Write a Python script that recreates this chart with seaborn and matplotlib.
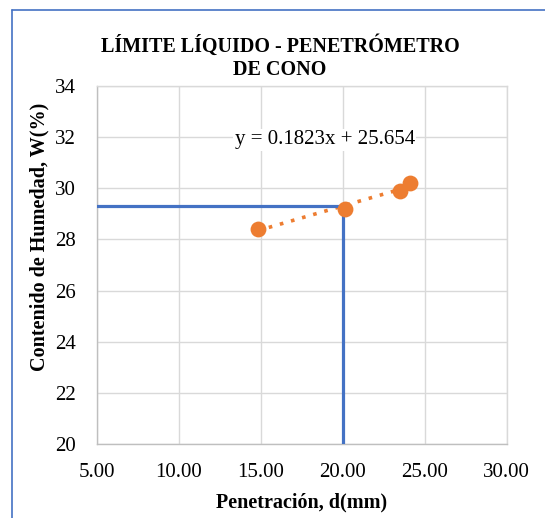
import numpy as np
import pandas as pd
import matplotlib.pyplot as plt
import seaborn as sns
from matplotlib.lines import Line2D

# Data
penetracion = [14.8, 20.1, 23.5, 24.1]
humedad = [28.4, 29.2, 29.9, 30.2]
ll_penetracion = 20.0
ll_humedad = 29.3
ecuacion = "y = 0.1823x + 25.654"
x_ticks = [5, 10, 15, 20, 25, 30]
y_ticks = [20, 22, 24, 26, 28, 30, 32, 34]

df = pd.DataFrame({"d": penetracion, "w": humedad})

sns.set_style("white")
plt.rcParams["font.family"] = ["Liberation Serif", "DejaVu Serif"]
plt.rcParams.update({"text.color": "black", "axes.labelcolor": "black",
                     "xtick.color": "black", "ytick.color": "black"})

fig = plt.figure(figsize=(5.45, 5.18), dpi=100)
ax = fig.add_axes([0.178, 0.143, 0.752, 0.691])

# Linear trendline (dotted)
m, b = np.polyfit(df["d"], df["w"], 1)
xs = np.array([df["d"].min(), df["d"].max()])
ax.plot(xs, m * xs + b, color="#ED7D31", linestyle=(0, (1, 2.2)),
        linewidth=2.6, zorder=3)

# Liquid limit guide lines
ax.plot([x_ticks[0], ll_penetracion, ll_penetracion],
        [ll_humedad, ll_humedad, y_ticks[0]],
        color="#4472C4", linewidth=2.3, zorder=4)

sns.scatterplot(data=df, x="d", y="w", ax=ax, color="#ED7D31", s=130,
                edgecolor="#ED7D31", linewidth=0, zorder=5)

ax.text(18.9, 31.9, ecuacion, fontsize=15, ha="center", va="center",
        bbox=dict(facecolor="white", edgecolor="none", pad=1), zorder=2)

ax.set_xlim(5, 30)
ax.set_ylim(20, 34)
ax.set_xticks(x_ticks)
ax.set_xticklabels([f"{v:.2f}" for v in x_ticks])
ax.set_yticks(y_ticks)
ax.grid(True, color="#d9d9d9", linewidth=1)
ax.tick_params(axis="x", labelsize=15, length=0, pad=14)
ax.tick_params(axis="y", labelsize=15, length=0, pad=15)
for s in ["top", "right"]:
    ax.spines[s].set_color("#d9d9d9")
for s in ["left", "bottom"]:
    ax.spines[s].set_color("#bfbfbf")
for s in ax.spines.values():
    s.set_linewidth(1)

ax.set_xlabel("Penetración, d(mm)", fontsize=14.5, fontweight="bold", labelpad=7)
ax.set_ylabel("Contenido de Humedad, W(%)", fontsize=14.5, fontweight="bold")
ax.yaxis.set_label_coords(-0.115, 0.578)
fig.text(0.514, 0.846, "LÍMITE LÍQUIDO - PENETRÓMETRO\nDE CONO", ha="center",
         va="bottom", fontsize=14.5, fontweight="bold", linespacing=1.2)

# Blue frame at the top and left of the image
fig.add_artist(Line2D([0.022, 1.0], [0.981, 0.981], color="#4472C4",
                      linewidth=1.2, transform=fig.transFigure))
fig.add_artist(Line2D([0.022, 0.022], [0.0, 0.981], color="#4472C4",
                      linewidth=1.2, transform=fig.transFigure))

fig.savefig("out.png", dpi=100, facecolor="white")
